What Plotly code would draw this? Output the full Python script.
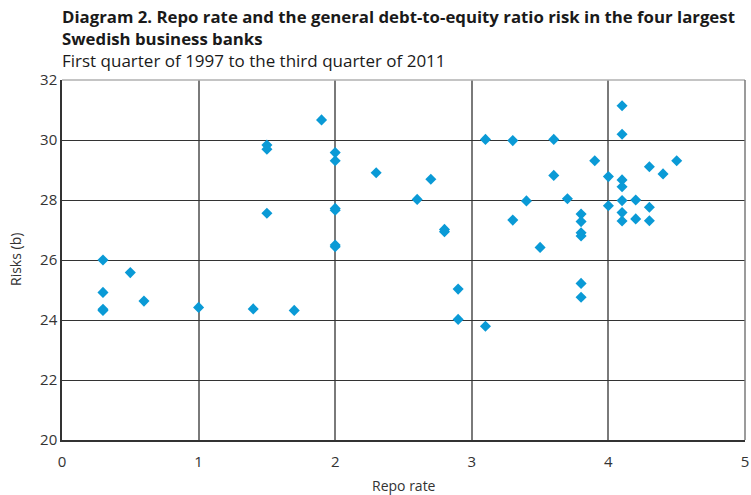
import plotly.graph_objects as go

repo_rate = [0.3, 0.3, 0.3, 0.3, 0.5, 0.6, 1.0, 1.4, 1.7,
             1.5, 1.5, 1.5, 1.9,
             2.0, 2.0, 2.0, 2.0, 2.0, 2.0,
             2.3, 2.6, 2.7, 2.8, 2.8, 2.9, 2.9,
             3.1, 3.1, 3.3, 3.3, 3.4, 3.5, 3.6, 3.6, 3.7,
             3.8, 3.8, 3.8, 3.8, 3.8, 3.8, 3.9,
             4.0, 4.0,
             4.1, 4.1, 4.1, 4.1, 4.1, 4.1, 4.1,
             4.2, 4.2, 4.3, 4.3, 4.3, 4.4, 4.5]
risks = [26.0, 24.92, 24.32, 24.36, 25.58, 24.63, 24.42, 24.37, 24.32,
         29.83, 29.69, 27.56, 30.67,
         29.58, 29.31, 27.72, 27.66, 26.5, 26.44,
         28.91, 28.02, 28.69, 27.02, 26.94, 25.03, 24.02,
         23.79, 30.02, 29.98, 27.33, 27.97, 26.42, 30.02, 28.82, 28.04,
         27.53, 27.28, 26.91, 26.8, 25.22, 24.76, 29.31,
         28.78, 27.81,
         31.14, 30.19, 28.67, 28.44, 27.98, 27.58, 27.3,
         28.0, 27.37, 29.11, 27.76, 27.31, 28.87, 29.31]

x_ticks = [0, 1, 2, 3, 4, 5]
y_ticks = [20, 22, 24, 26, 28, 30, 32]

fig = go.Figure()
fig.add_trace(go.Scatter(
    x=repo_rate, y=risks, mode="markers",
    marker=dict(symbol="diamond", size=8.5, color="#0A9AD6", line=dict(width=0)),
    showlegend=False, cliponaxis=False,
))

font_family = "Open Sans"
fig.update_layout(
    width=751, height=495,
    margin=dict(l=62, r=6, t=80, b=55, autoexpand=False),
    paper_bgcolor="white", plot_bgcolor="white",
    font=dict(family=font_family, color="#333333", size=14),
    xaxis=dict(
        range=[0, 5], tickvals=x_ticks, ticktext=[str(v) for v in x_ticks],
        showgrid=True, gridcolor="#7a7a7a", gridwidth=1.5,
        showline=True, linecolor="#333333", linewidth=1.5, mirror=False,
        zeroline=False, ticks="", ticklen=0, automargin=False,
        ticklabelstandoff=7,
        tickfont=dict(size=15, color="#333333"),
    ),
    yaxis=dict(
        range=[20, 32], tickvals=y_ticks, ticktext=[str(v) for v in y_ticks],
        showgrid=True, gridcolor="#333333", gridwidth=1.2,
        showline=True, linecolor="#333333", linewidth=1.5,
        zeroline=False, ticks="", ticklen=0, automargin=False,
        tickfont=dict(size=15, color="#333333"),
    ),
)

# Frame top and right border
fig.add_shape(type="line", xref="paper", yref="paper", x0=0, x1=1, y0=1, y1=1,
              line=dict(color="#b0b0b0", width=1.5))
fig.add_shape(type="line", xref="paper", yref="paper", x0=1, x1=1, y0=0, y1=1,
              line=dict(color="#7a7a7a", width=1.5))

# Axis titles
fig.add_annotation(xref="paper", yref="paper", x=0.5, y=0, yshift=-45,
                   xanchor="center", yanchor="middle", showarrow=False,
                   text="Repo rate", font=dict(size=14, color="#333333"))
fig.add_annotation(xref="paper", yref="paper", x=0, y=0.5, xshift=-47,
                   xanchor="center", yanchor="middle", showarrow=False, textangle=-90,
                   text="Risks (b)", font=dict(size=14, color="#333333"))

# Titles
fig.add_annotation(
    xref="paper", yref="paper", x=0, y=1, xanchor="left", yanchor="middle",
    yshift=53, xshift=-2, showarrow=False, align="left",
    text="<b>Diagram 2. Repo rate and the general debt-to-equity ratio risk in the four largest<br>Swedish business banks</b>",
    font=dict(family=font_family, size=16.8, color="#1a1a1a"),
)
fig.add_annotation(
    xref="paper", yref="paper", x=0, y=1, xanchor="left", yanchor="middle",
    yshift=20, xshift=-2, showarrow=False,
    text="First quarter of 1997 to the third quarter of 2011",
    font=dict(family=font_family, size=17, color="#1a1a1a"),
)

fig.write_html(
    "out.html",
    config={"displayModeBar": False},
    post_script="document.body.style.margin='0px';document.body.style.overflow='hidden';",
)
